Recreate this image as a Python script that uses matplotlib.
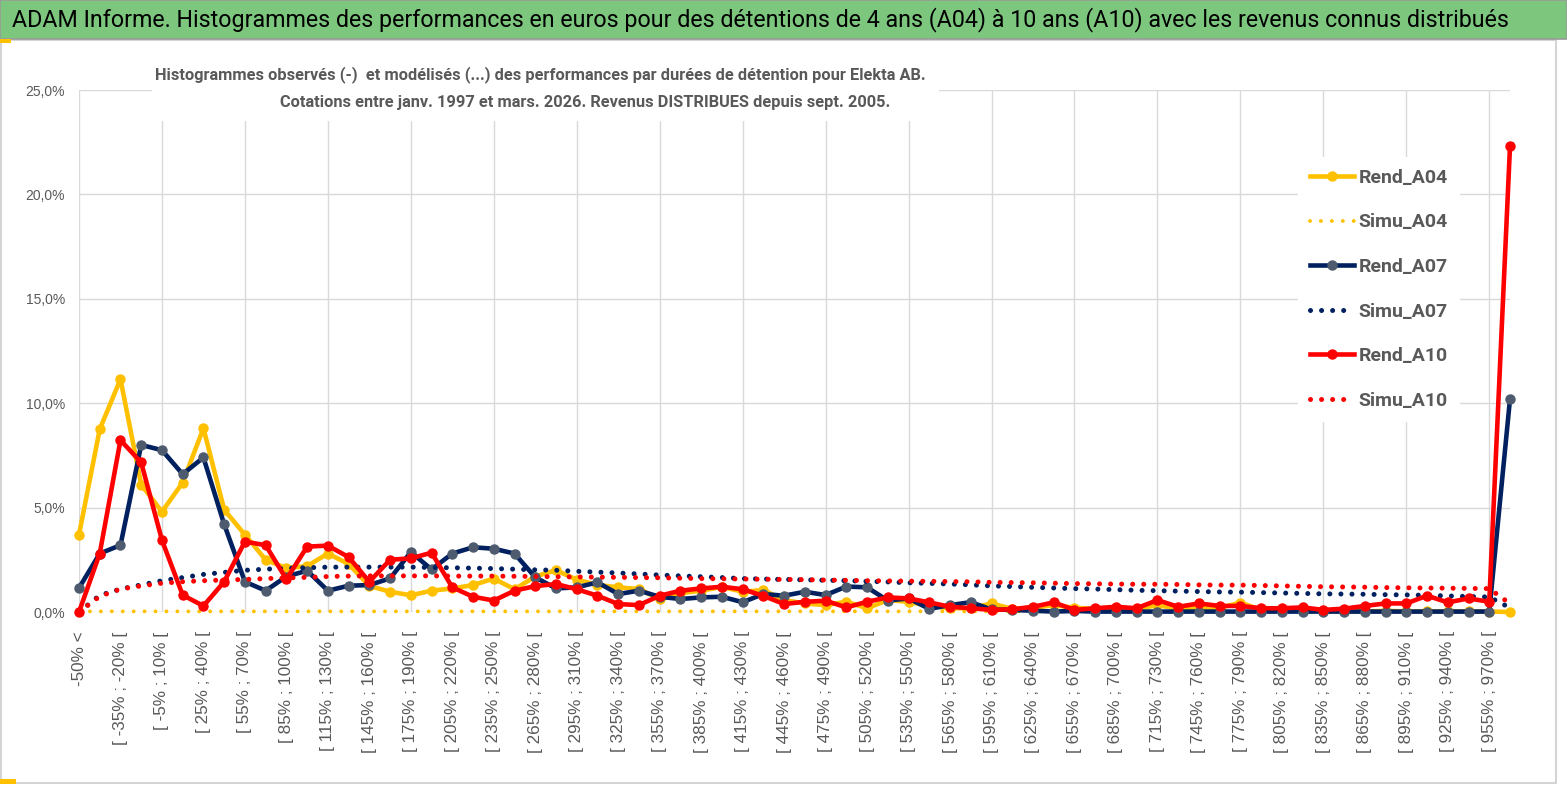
import matplotlib
matplotlib.use("Agg")
import matplotlib.pyplot as plt
from matplotlib.patches import Rectangle
from matplotlib.ticker import FuncFormatter

# Histogram classes: "-50% <", then 15% wide bins up to 970%, then "> 970%"
bin_starts = list(range(-50, 970, 15))
categories = ["-50% <"] + [f"[ {a}% ; {a + 15}% [" for a in bin_starts] + ["970% >"]

# Observed frequencies (%)
rend_a04 = [3.7, 8.75, 11.15, 6.1, 4.8, 6.2, 8.8, 4.9, 3.7, 2.5,
            2.1, 2.2, 2.8, 2.3, 1.25, 0.97, 0.8, 1.02, 1.13, 1.29,
            1.6, 1.09, 1.7, 2.0, 1.55, 1.3, 1.18, 1.1, 0.62, 0.9,
            1.02, 1.2, 0.97, 1.05, 0.57, 0.41, 0.33, 0.49, 0.18, 0.57,
            0.49, 0.29, 0.18, 0.18, 0.41, 0.15, 0.2, 0.33, 0.2, 0.15,
            0.2, 0.15, 0.33, 0.15, 0.2, 0.2, 0.45, 0.1, 0.1, 0.1,
            0.05, 0.03, 0.03, 0.05, 0.03, 0.03, 0.03, 0.03, 0.02, 0.0]
rend_a07 = [1.15, 2.8, 3.2, 8.0, 7.75, 6.6, 7.4, 4.2, 1.45, 1.02,
            1.7, 1.98, 1.02, 1.26, 1.29, 1.61, 2.87, 2.04, 2.8, 3.1,
            3.03, 2.8, 1.66, 1.13, 1.18, 1.42, 0.86, 1.02, 0.73, 0.62,
            0.7, 0.73, 0.47, 0.86, 0.78, 0.97, 0.81, 1.22, 1.18, 0.55,
            0.65, 0.15, 0.33, 0.47, 0.12, 0.1, 0.06, 0.02, 0.05, 0.02,
            0.02, 0.02, 0.02, 0.02, 0.02, 0.02, 0.02, 0.02, 0.02, 0.02,
            0.02, 0.02, 0.02, 0.02, 0.02, 0.02, 0.02, 0.02, 0.02, 10.2]
rend_a10 = [0.0, 2.8, 8.23, 7.16, 3.44, 0.81, 0.29, 1.45, 3.37, 3.2,
            1.57, 3.13, 3.18, 2.63, 1.45, 2.5, 2.57, 2.84, 1.18, 0.73,
            0.55, 1.02, 1.24, 1.34, 1.09, 0.78, 0.38, 0.33, 0.78, 1.02,
            1.13, 1.21, 1.09, 0.77, 0.38, 0.49, 0.54, 0.22, 0.49, 0.7,
            0.65, 0.46, 0.25, 0.18, 0.1, 0.13, 0.25, 0.46, 0.1, 0.18,
            0.25, 0.18, 0.57, 0.25, 0.41, 0.29, 0.29, 0.18, 0.18, 0.22,
            0.1, 0.16, 0.29, 0.41, 0.41, 0.78, 0.46, 0.65, 0.49, 22.3]

# Modelled frequencies (%)
simu_a04 = [0.03, 0.03, 0.03, 0.03, 0.03, 0.03, 0.03, 0.03, 0.03, 0.03,
            0.03, 0.03, 0.03, 0.03, 0.03, 0.03, 0.03, 0.03, 0.03, 0.03,
            0.03, 0.03, 0.03, 0.03, 0.03, 0.03, 0.03, 0.03, 0.03, 0.03,
            0.03, 0.03, 0.03, 0.03, 0.03, 0.03, 0.03, 0.03, 0.03, 0.03,
            0.03, 0.03, 0.03, 0.03, 0.03, 0.03, 0.03, 0.03, 0.03, 0.03,
            0.03, 0.03, 0.03, 0.03, 0.03, 0.03, 0.03, 0.03, 0.03, 0.03,
            0.03, 0.03, 0.03, 0.03, 0.03, 0.03, 0.03, 0.03, 0.03, 0.0]
simu_a07 = [0.0, 0.8, 1.1, 1.3, 1.5, 1.65, 1.8, 1.9, 2.0, 2.05,
            2.1, 2.12, 2.15, 2.15, 2.15, 2.15, 2.15, 2.13, 2.12, 2.1,
            2.08, 2.05, 2.02, 2.0, 1.95, 1.91, 1.87, 1.82, 1.77, 1.73,
            1.69, 1.65, 1.6, 1.58, 1.56, 1.54, 1.52, 1.5, 1.47, 1.44,
            1.4, 1.37, 1.34, 1.3, 1.25, 1.22, 1.18, 1.15, 1.12, 1.1,
            1.07, 1.04, 1.02, 1.0, 0.98, 0.96, 0.95, 0.93, 0.91, 0.89,
            0.87, 0.86, 0.85, 0.83, 0.82, 0.8, 0.77, 0.74, 0.72, 0.2]
simu_a10 = [0.0, 0.75, 1.1, 1.25, 1.38, 1.45, 1.5, 1.53, 1.56, 1.6,
            1.63, 1.66, 1.7, 1.72, 1.73, 1.73, 1.73, 1.73, 1.72, 1.72,
            1.72, 1.71, 1.7, 1.69, 1.68, 1.67, 1.66, 1.65, 1.64, 1.62,
            1.6, 1.59, 1.58, 1.57, 1.56, 1.55, 1.53, 1.52, 1.5, 1.49,
            1.48, 1.47, 1.46, 1.45, 1.42, 1.41, 1.4, 1.38, 1.36, 1.35,
            1.34, 1.33, 1.33, 1.32, 1.3, 1.29, 1.29, 1.27, 1.25, 1.23,
            1.21, 1.2, 1.19, 1.17, 1.16, 1.15, 1.14, 1.13, 1.12, 0.4]

header = ("ADAM Informe. Histogrammes des performances en euros pour des détentions "
          "de 4 ans (A04) à 10 ans (A10) avec les revenus connus distribués")
sub1 = ("Histogrammes observés (-)  et modélisés (...) des performances par durées "
        "de détention pour Elekta AB.")
sub2 = "Cotations entre janv. 1997 et mars. 2026. Revenus DISTRIBUES depuis sept. 2005."

NARROW = ["Liberation Sans Narrow", "Roboto", "DejaVu Sans"]
REG = ["Liberation Sans", "DejaVu Sans"]
GREY = "#595959"
YEL, NAVY, RED, MGREY = "#FFC000", "#002060", "#FF0000", "#4E5B6E"

W, H = 1567, 789
fig = plt.figure(figsize=(W / 100, H / 100), dpi=100)


def fx(px):
    return px / W


def fy(py):
    return 1 - py / H


def fit(t, target):
    # scale a text's font size so that it spans the target width in pixels
    fig.canvas.draw()
    w = t.get_window_extent().width
    t.set_fontsize(t.get_fontsize() * target / w)


# frame, header band and little yellow accents
fig.add_artist(Rectangle((fx(1), fy(783)), fx(1555), fy(40) - fy(783),
                         transform=fig.transFigure, facecolor="white",
                         edgecolor="#D4D4D4", lw=1.5, zorder=0))
fig.add_artist(Rectangle((0, fy(39)), 1, fy(0) - fy(39), transform=fig.transFigure,
                         facecolor="#7DC67E", edgecolor="#9A9A9A", lw=1.2, zorder=1))
fig.add_artist(Rectangle((0, fy(43)), fx(11), fy(39) - fy(43), transform=fig.transFigure,
                         facecolor=YEL, edgecolor="none", zorder=2))
fig.add_artist(Rectangle((0, fy(784)), fx(16), fy(779) - fy(784), transform=fig.transFigure,
                         facecolor=YEL, edgecolor="none", zorder=2))

t = fig.text(fx(12), fy(20), header, family=NARROW, fontsize=18, color="black",
             ha="left", va="center")
fit(t, 1503)

ax = fig.add_axes([fx(79), fy(612), fx(1510) - fx(79), fy(90) - fy(612)])
x = list(range(len(categories)))

ax.plot(x, rend_a04, color=YEL, lw=3.3, marker="o", ms=6.5, mfc=YEL, mec=YEL,
        label="Rend_A04", clip_on=False, solid_joinstyle="round")
ax.plot(x, simu_a04, color=YEL, lw=2.8, linestyle=(0, (0.01, 2.8)),
        dash_capstyle="round", label="Simu_A04", clip_on=False)
ax.plot(x, rend_a07, color=NAVY, lw=3.3, marker="o", ms=6.5, mfc=MGREY, mec=MGREY,
        label="Rend_A07", clip_on=False, solid_joinstyle="round")
ax.plot(x, simu_a07, color=NAVY, lw=3.6, linestyle=(0, (0.01, 2.2)),
        dash_capstyle="round", label="Simu_A07", clip_on=False)
ax.plot(x, rend_a10, color=RED, lw=3.3, marker="o", ms=6.5, mfc=RED, mec=RED,
        label="Rend_A10", clip_on=False, solid_joinstyle="round")
ax.plot(x, simu_a10, color=RED, lw=3.6, linestyle=(0, (0.01, 2.2)),
        dash_capstyle="round", label="Simu_A10", clip_on=False)

ax.set_xlim(0, len(categories) - 1)
ax.set_ylim(0, 25)
ax.set_yticks([0, 5, 10, 15, 20, 25])
ax.yaxis.set_major_formatter(FuncFormatter(lambda v, p: f"{v:.1f}%".replace(".", ",")))
ax.set_xticks(x[::2])
ax.set_xticklabels(categories[::2], rotation=90, family=REG, fontsize=12.3, color=GREY,
                   va="top", ha="center")
ax.set_xticks(x[::4], minor=True)
ax.xaxis.remove_overlapping_locs = False
for lab in ax.get_yticklabels():
    lab.set_family(REG)
    lab.set_fontsize(10)
    lab.set_color(GREY)
ax.tick_params(axis="x", which="both", length=0, pad=14)
ax.tick_params(axis="y", length=0, pad=10)
ax.grid(axis="y", which="major", color="#D9D9D9", lw=1)
ax.grid(axis="x", which="minor", color="#D9D9D9", lw=1)
ax.set_axisbelow(True)
for s in ax.spines.values():
    s.set_visible(False)

leg = ax.legend(loc="upper left", bbox_to_anchor=(fx(1298), fy(157)),
                bbox_transform=fig.transFigure, borderaxespad=0, frameon=True,
                facecolor="white", edgecolor="none", framealpha=1, fancybox=False,
                handlelength=2.27, handletextpad=0.26, labelspacing=1.37,
                borderpad=0.6, numpoints=1,
                prop={"family": NARROW, "weight": "bold", "size": 14})
for txt in leg.get_texts():
    txt.set_color(GREY)

# chart title block over the plot, with its white background
fig.add_artist(Rectangle((fx(152), fy(121)), fx(939) - fx(152), fy(58) - fy(121),
                         transform=fig.transFigure, facecolor="white",
                         edgecolor="none", zorder=5))
s1 = fig.text(fx(540), fy(75), sub1, family=NARROW, weight="bold", fontsize=13,
              color=GREY, ha="center", va="center", zorder=6)
fit(s1, 770)
s2 = fig.text(fx(585), fy(103), sub2, family=NARROW, weight="bold",
              fontsize=s1.get_fontsize(), color=GREY, ha="center", va="center", zorder=6)

fig.savefig("out.png", dpi=100, facecolor="white")
